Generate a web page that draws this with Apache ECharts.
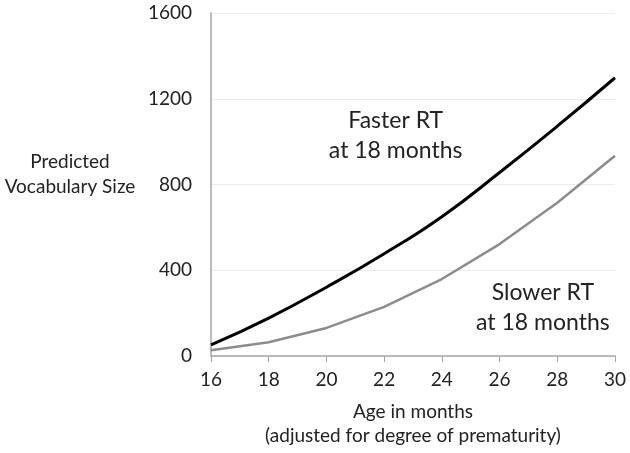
<!DOCTYPE html>
<html>
<head>
<meta charset="utf-8">
<script src="https://cdn.jsdelivr.net/npm/echarts@6/dist/echarts.min.js"></script>
<style>
  html, body { margin: 0; padding: 0; background: #fff; }
  #main { width: 630px; height: 453px; }
</style>
</head>
<body>
<div id="main"></div>
<script>
// age in months (adjusted)
const ages = [16, 18, 20, 22, 24, 26, 28, 30];
// predicted vocabulary size
const fasterRT = [52, 177, 321, 477, 650, 856, 1072, 1298];
const slowerRT = [27, 64, 131, 229, 359, 522, 715, 934];
const yTicks = [0, 400, 800, 1200, 1600];

const font = "Lato, 'Open Sans', sans-serif";
const chart = echarts.init(document.getElementById("main"));

const option = {
  animation: false,
  backgroundColor: "#fff",
  textStyle: { fontFamily: font },
  grid: { left: 211, right: 15, top: 13, bottom: 97 },
  xAxis: {
    type: "value",
    min: 16,
    max: 30,
    interval: 2,
    name: "Age in months\n(adjusted for degree of prematurity)",
    nameLocation: "middle",
    nameGap: 44,
    nameTextStyle: { fontSize: 19, lineHeight: 24, color: "#222", fontFamily: font },
    axisLine: { lineStyle: { color: "#a6a6a6", width: 1.5 } },
    axisTick: { show: true, length: 6, lineStyle: { color: "#a6a6a6" } },
    axisLabel: { fontSize: 19, color: "#222", margin: 14, fontFamily: font },
    splitLine: { show: false }
  },
  yAxis: {
    type: "value",
    min: yTicks[0],
    max: yTicks[yTicks.length - 1],
    interval: 400,
    axisLine: { show: true, lineStyle: { color: "#a6a6a6", width: 1.5 } },
    axisTick: { show: false },
    axisLabel: {
      fontSize: 19,
      color: "#222",
      margin: 19,
      fontFamily: font,
      formatter: (v) => String(v)
    },
    splitLine: { show: true, lineStyle: { color: "#ececec", width: 1 } }
  },
  graphic: [
    {
      type: "text",
      x: 70,
      y: 174,
      style: {
        text: "Predicted\nVocabulary Size",
        fontSize: 19,
        lineHeight: 25,
        fill: "#222",
        align: "center",
        verticalAlign: "middle",
        fontFamily: font
      }
    }
  ],
  series: [
    {
      name: "Faster RT at 18 months",
      type: "line",
      smooth: true,
      symbol: "none",
      lineStyle: { color: "#000", width: 3 },
      data: ages.map((a, i) => [a, fasterRT[i]]),
      markPoint: {
        symbol: "circle",
        symbolSize: 0,
        label: {
          show: true,
          position: "inside",
          formatter: "Faster RT\nat 18 months",
          fontSize: 23,
          lineHeight: 30,
          color: "#222",
          fontFamily: font
        },
        data: [{ coord: [22.4, 1030] }]
      }
    },
    {
      name: "Slower RT at 18 months",
      type: "line",
      smooth: false,
      symbol: "none",
      lineStyle: { color: "#8c8c8c", width: 2.5 },
      data: ages.map((a, i) => [a, slowerRT[i]]),
      markPoint: {
        symbol: "circle",
        symbolSize: 0,
        label: {
          show: true,
          position: "inside",
          formatter: "Slower RT\nat 18 months",
          fontSize: 23,
          lineHeight: 30,
          color: "#222",
          fontFamily: font
        },
        data: [{ coord: [27.5, 226] }]
      }
    }
  ]
};

chart.setOption(option);
</script>
</body>
</html>
